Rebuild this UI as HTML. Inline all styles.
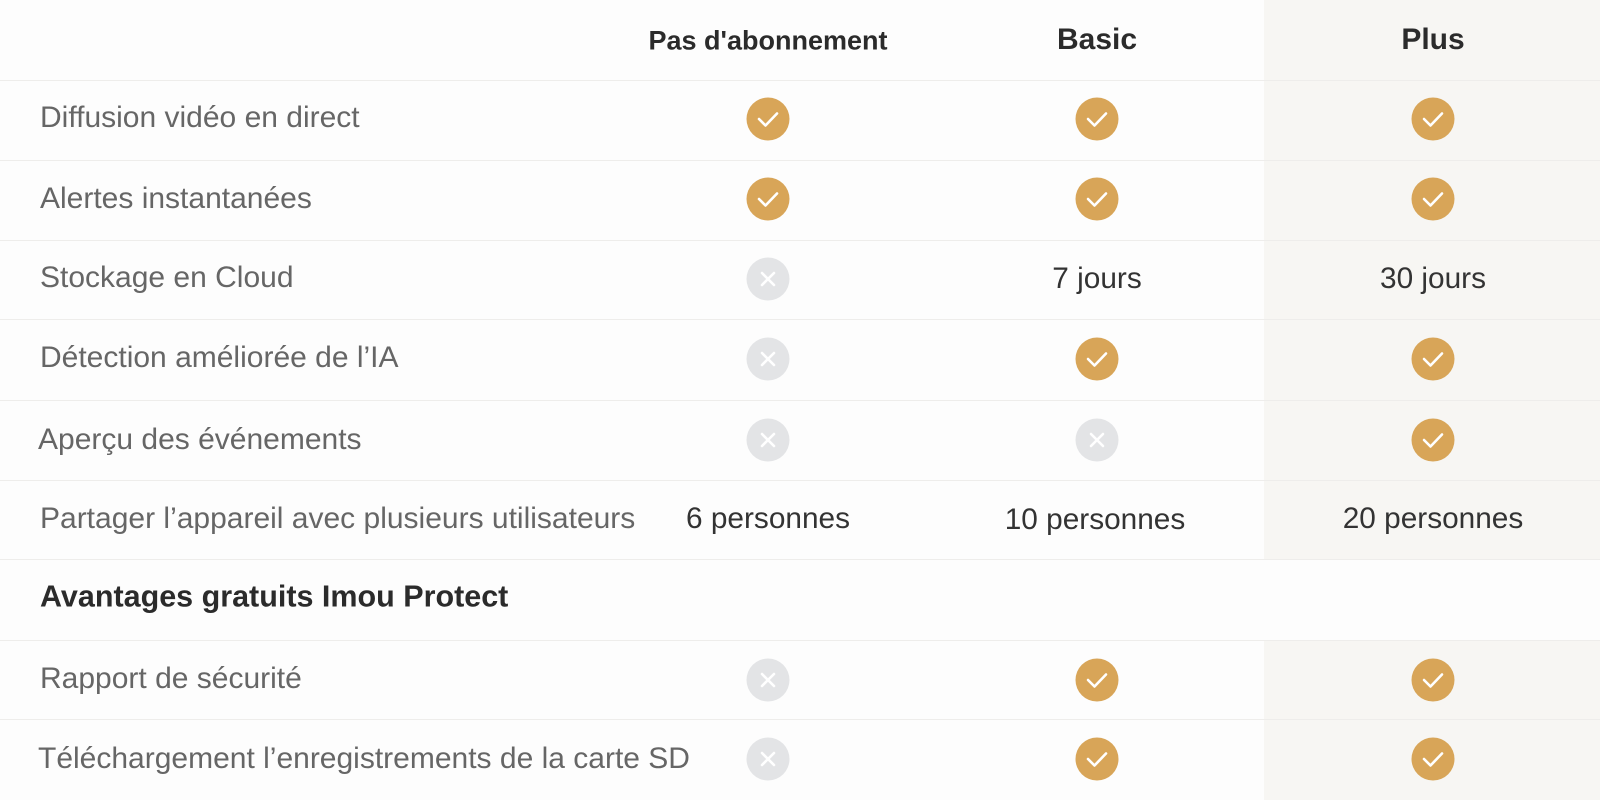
<!DOCTYPE html>
<html><head><meta charset="utf-8"><style>
body{margin:0;width:1600px;height:800px;background:#fdfdfd;position:relative;overflow:hidden;font-family:"Liberation Sans",sans-serif}
.plus{position:absolute;left:1264px;width:336px;background:#f7f6f3}
.line{position:absolute;left:0;width:1600px;height:1px;background:#eeedeb}
.t{position:absolute;transform:translateY(-50%);white-space:nowrap}
.f{left:40px;font-size:30px;color:#666}
.c{transform:translate(-50%,-50%);font-size:29.8px;color:#333}
.h{font-weight:bold;color:#2b2b2b}
.ic{position:absolute;width:43px;height:43px;border-radius:50%;transform:translate(-50%,-50%)}
.ok{background:#d8a558}
.no{background:#e3e4e6}
.ic svg{position:absolute;left:0;top:0}
</style></head><body>
<div class="plus" style="top:0;height:559px"></div>
<div class="plus" style="top:640px;height:160px"></div>
<div class="line" style="top:80px"></div><div class="line" style="top:160px"></div><div class="line" style="top:240px"></div><div class="line" style="top:319px"></div><div class="line" style="top:400px"></div><div class="line" style="top:480px"></div><div class="line" style="top:559px"></div><div class="line" style="top:640px"></div><div class="line" style="top:719px"></div>
<div class="t c h" style="left:768px;top:41px;font-size:27px">Pas d'abonnement</div>
<div class="t c h" style="left:1097px;top:40px;font-size:30px">Basic</div>
<div class="t c h" style="left:1433px;top:40px;font-size:30px">Plus</div>
<div class="t f" style="top:118px">Diffusion vidéo en direct</div>
<div class="t f" style="top:199px">Alertes instantanées</div>
<div class="t f" style="top:278px">Stockage en Cloud</div>
<div class="t f" style="top:358px">Détection améliorée de l’IA</div>
<div class="t f" style="top:440px;left:38px">Aperçu des événements</div>
<div class="t f" style="top:519px">Partager l’appareil avec plusieurs utilisateurs</div>
<div class="t f h" style="top:597px;font-size:30.5px;color:#2b2b2b">Avantages gratuits Imou Protect</div>
<div class="t f" style="top:679px">Rapport de sécurité</div>
<div class="t f" style="top:759px;left:38px">Téléchargement l’enregistrements de la carte SD</div>
<div class="t c" style="left:1097px;top:279px">7 jours</div>
<div class="t c" style="left:1433px;top:279px">30 jours</div>
<div class="t c" style="left:768px;top:519px">6 personnes</div>
<div class="t c" style="left:1095px;top:520px">10 personnes</div>
<div class="t c" style="left:1433px;top:519px">20 personnes</div>
<div id="icons"></div>
<script>
var ok='<svg width="43" height="43"><path d="M12.5 21.5 L19 28 L30.5 16" stroke="#fff" stroke-width="2.6" fill="none" stroke-linecap="round" stroke-linejoin="round"/></svg>';
var no='<svg width="43" height="43"><path d="M15.5 15.5 L27.5 27.5 M27.5 15.5 L15.5 27.5" stroke="#fff" stroke-width="2.6" stroke-linecap="round"/></svg>';
var X=[768,1097,1433];
var rows=[[119,'ooo'],[199,'ooo'],[279,'x--'],[359,'xoo'],[440,'xxo'],[680,'xoo'],[759,'xoo']];
var h='';
rows.forEach(function(r){for(var i=0;i<3;i++){var c=r[1][i];if(c=='-')continue;h+='<div class="ic '+(c=='o'?'ok':'no')+'" style="left:'+X[i]+'px;top:'+r[0]+'px">'+(c=='o'?ok:no)+'</div>';}});
document.getElementById('icons').innerHTML=h;
</script>
</body></html>
